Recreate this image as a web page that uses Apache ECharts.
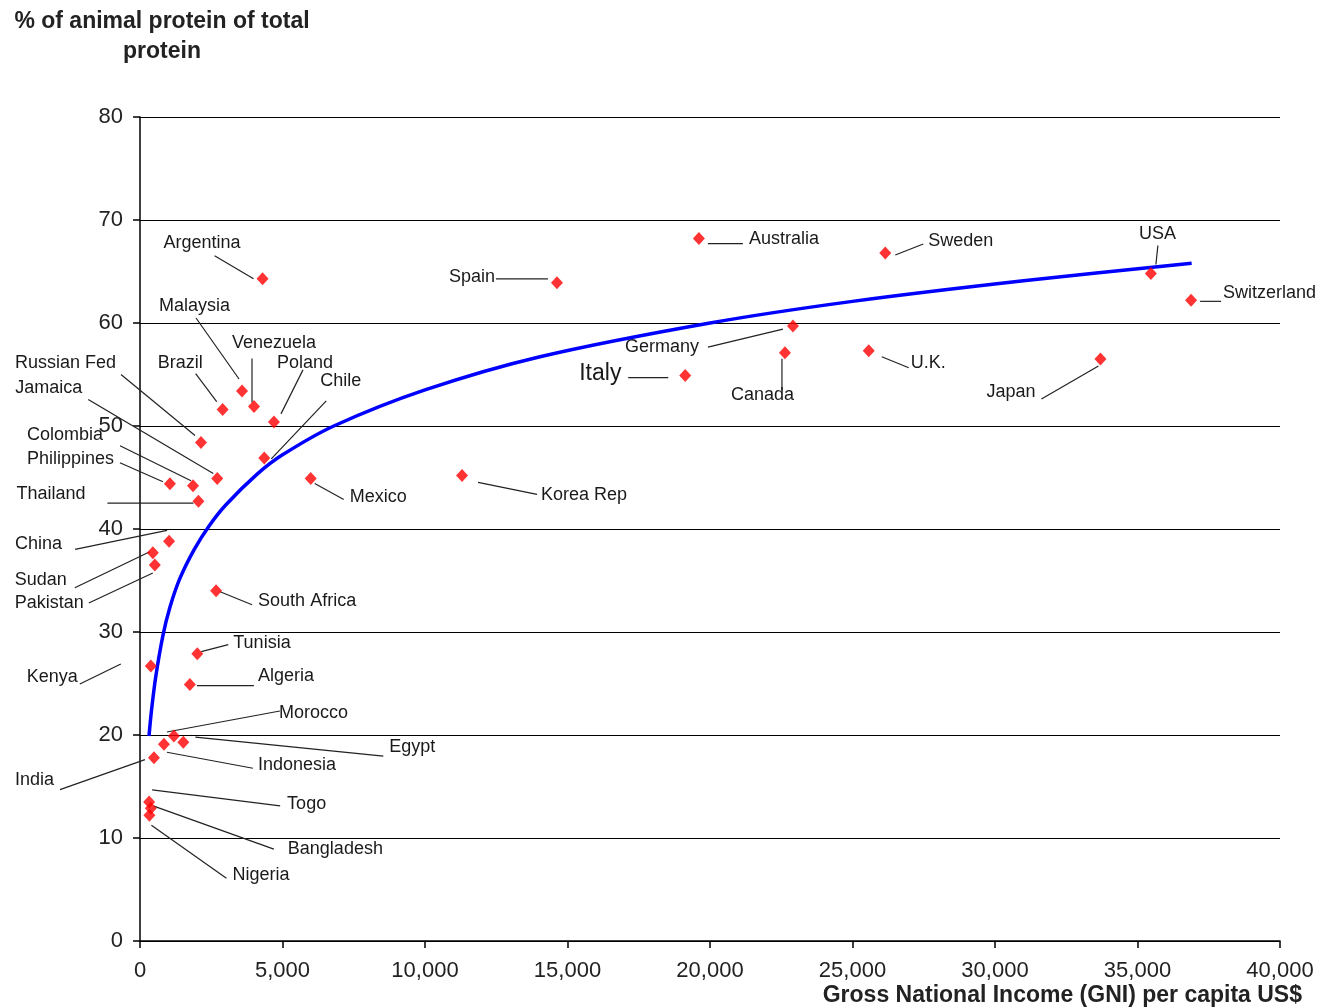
<!DOCTYPE html>
<html>
<head>
<meta charset="utf-8">
<script src="https://cdn.jsdelivr.net/npm/echarts@6/dist/echarts.min.js"></script>
<style>
  html, body { margin: 0; padding: 0; background: #fff; }
  #chart { width: 1321px; height: 1007px; }
</style>
</head>
<body>
<div id="chart"></div>
<script>
// ---- data ----
const countries = ['Argentina','Malaysia','Brazil','Venezuela','Poland','Chile','Russian Fed','Jamaica','Colombia','Philippines','Thailand','Mexico','China','Sudan','Pakistan','South Africa','Tunisia','Kenya','Algeria','Morocco','Egypt','Indonesia','India','Togo','Bangladesh','Nigeria','Spain','Australia','Sweden','USA','Switzerland','Germany','Canada','U.K.','Japan','Italy','Korea Rep'];
const gniPerCapita = [4300,3580,2900,4000,4700,4360,2140,2710,1860,1050,2050,5990,1020,450,520,2670,2010,380,1750,1190,1520,840,490,320,380,330,14630,19610,26150,35470,36880,22910,22630,25570,33700,19130,11300];
const animalProteinPct = [64.3,53.4,51.6,51.9,50.4,46.9,48.4,44.9,44.2,44.4,42.7,44.9,38.8,37.7,36.5,34.0,27.9,26.7,24.9,19.9,19.3,19.1,17.8,13.5,12.9,12.2,63.9,68.2,66.8,64.8,62.2,59.7,57.1,57.3,56.5,54.9,45.2];

// trend curve, points
const trendX = [316,400,550,800,1050,1400,1900,2400,3000,4100,5000,6800,10000,14000,20000,25000,31000,36900];
const trendY = [19.9,22.3,25.6,29.6,32.4,35.2,38.0,40.2,42.3,45.3,47.2,50.0,53.5,56.7,60.0,62.1,64.1,65.8];

const xTicks = [0,5000,10000,15000,20000,25000,30000,35000,40000];
const yTicks = [0,10,20,30,40,50,60,70,80];

// ---- label placement (pixel offsets from each marker: text x,y, leader line x1,y1,x2,y2) ----
const labelOffsets = {
  'Argentina': [-99,-36, -48,-23, -9,0],
  'Malaysia': [-83,-85, -46,-73, -3,-12],
  'Brazil': [-65,-46, -27,-36, -6,-8],
  'Venezuela': [-22,-63, -2,-48, -2,-4],
  'Poland': [3,-59, 29,-52, 7,-8],
  'Chile': [56,-77, 62,-57, 7,1],
  'Russian Fed': [-186,-79, -80,-68, -6,-7],
  'Jamaica': [-202,-90, -129,-79, -4,-5],
  'Colombia': [-166,-51, -73,-40, -2,-5],
  'Philippines': [-143,-25, -50,-21, -7,-2],
  'Thailand': [-182,-7, -91,2, -5,2],
  'Mexico': [39,19, 4,5, 33,21],
  'China': [-154,3, -94,8, -2,-11],
  'Sudan': [-138,27, -78,35, -3,-1],
  'Pakistan': [-140,38, -66,38, -2,8],
  'South Africa': [42,10, 4,1, 36,14],
  'Tunisia': [36,-11, 4,-2, 31,-9],
  'Kenya': [-124,11, -71,18, -30,-2],
  'Algeria': [68,-8, 7,1, 64,1],
  'Morocco': [105,-23, -7,-4, 106,-25],
  'Egypt': [206,5, 12,-5, 200,14],
  'Indonesia': [94,21, 3,8, 89,24],
  'India': [-139,22, -94,32, -9,2],
  'Togo': [138,2, 3,-12, 131,4],
  'Bangladesh': [137,41, 3,-2, 123,41],
  'Nigeria': [83,60, 2,10, 77,63],
  'Spain': [-108,-6, -61,-4, -9,-4],
  'Australia': [50,0, 9,5, 44,5],
  'Sweden': [43,-12, 10,2, 38,-9],
  'USA': [-12,-40, 7,-28, 5,-9],
  'Switzerland': [32,-7, 9,1, 30,1],
  'Germany': [-168,21, -85,21, -10,3],
  'Canada': [-54,42, -3,6, -3,37],
  'U.K.': [42,12, 13,6, 40,17],
  'Japan': [-114,33, -59,40, -2,7],
  'Italy': [-106,-2, -57,2, -17,2],
  'Korea Rep': [79,20, 16,7, 75,19]
};

const FONT = '"Liberation Sans", Arial, sans-serif';
const points = countries.map((c, i) => [gniPerCapita[i], animalProteinPct[i]]);
const trend = trendX.map((x, i) => [x, trendY[i]]);

const chart = echarts.init(document.getElementById('chart'), null, { renderer: 'canvas' });
chart.setOption({
  backgroundColor: '#ffffff',
  animation: false,
  grid: { left: 140, right: 41, top: 117, bottom: 66, containLabel: false },
  xAxis: {
    type: 'value', min: xTicks[0], max: xTicks[xTicks.length - 1], interval: 5000,
    axisLine: { show: true, lineStyle: { color: '#000', width: 1.5 } },
    axisTick: { show: true, length: 7, lineStyle: { color: '#000', width: 1.5 } },
    splitLine: { show: false },
    axisLabel: {
      color: '#222', fontSize: 22, fontFamily: FONT, margin: 19,
      formatter: v => v.toLocaleString('en-US')
    }
  },
  yAxis: {
    type: 'value', min: yTicks[0], max: yTicks[yTicks.length - 1], interval: 10,
    axisLine: { show: true, lineStyle: { color: '#000', width: 1.5 } },
    axisTick: { show: true, length: 7, lineStyle: { color: '#000', width: 1.5 } },
    splitLine: { show: true, lineStyle: { color: '#000', width: 1.2 } },
    axisLabel: { color: '#222', fontSize: 22, fontFamily: FONT, margin: 17 }
  },
  graphic: [
    {
      type: 'text', x: 162, y: 7,
      style: {
        text: '% of animal protein of total\nprotein', align: 'center', verticalAlign: 'top',
        font: 'bold 23px ' + FONT, fill: '#222', lineHeight: 30
      }
    },
    {
      type: 'text', x: 1302, y: 984,
      style: {
        text: 'Gross National Income (GNI) per capita US$', align: 'right', verticalAlign: 'top',
        font: 'bold 23px ' + FONT, fill: '#222'
      }
    }
  ],
  series: [
    {
      type: 'custom', name: 'labels', clip: false, silent: true, z: 1,
      data: points,
      encode: { x: 0, y: 1 },
      renderItem: function (params, api) {
        const i = params.dataIndex;
        const name = countries[i];
        const o = labelOffsets[name];
        const p = api.coord([api.value(0), api.value(1)]);
        const big = name === 'Italy';
        return {
          type: 'group',
          children: [
            {
              type: 'line',
              shape: { x1: p[0] + o[2], y1: p[1] + o[3], x2: p[0] + o[4], y2: p[1] + o[5] },
              style: { stroke: '#222', lineWidth: 1.2 }
            },
            {
              type: 'text', x: p[0] + o[0], y: p[1] + o[1],
              style: {
                text: name, align: 'left', verticalAlign: 'middle',
                font: (big ? '23px ' : '18px ') + FONT, fill: '#1a1a1a'
              }
            }
          ]
        };
      }
    },
    {
      type: 'line', name: 'trend', data: trend, smooth: 0.3,
      showSymbol: false, symbol: 'none', silent: true, z: 2,
      lineStyle: { color: '#0000ff', width: 3.5 }
    },
    {
      type: 'scatter', name: 'countries', data: points, z: 3,
      symbol: 'diamond', symbolSize: [12, 13],
      itemStyle: { color: '#ff0000' }
    }
  ]
});
</script>
</body>
</html>
